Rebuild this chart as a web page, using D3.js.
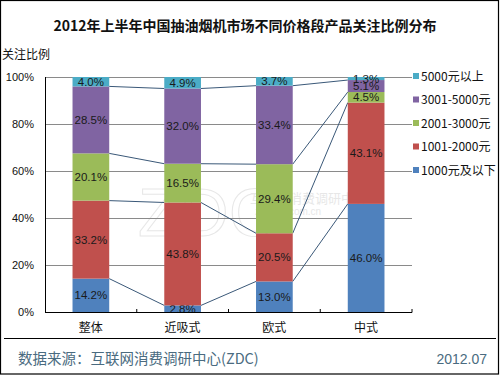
<!DOCTYPE html>
<html>
<head>
<meta charset="utf-8">
<script src="https://d3js.org/d3.v7.min.js"></script>
<style>
  body { margin: 0; background: #fff; }
  text { font-family: "Liberation Sans", Arial, "Noto Sans CJK SC", sans-serif; }
  .cjk { font-family: "Noto Sans CJK SC", "Liberation Sans", sans-serif; }
</style>
</head>
<body>
<svg id="chart" width="500" height="375"></svg>
<script>
// data
const categories = ["整体", "近吸式", "欧式", "中式"];
const seriesNames = ["1000元及以下", "1001-2000元", "2001-3000元", "3001-5000元", "5000元以上"];
const seriesColors = ["#4f81bd", "#c0504d", "#9bbb59", "#8064a2", "#4bacc6"];
const v1000 = [14.2, 2.8, 13.0, 46.0];
const v2000 = [33.2, 43.8, 20.5, 43.1];
const v3000 = [20.1, 16.5, 29.4, 4.5];
const v5000 = [28.5, 32.0, 33.4, 5.1];
const vOver = [4.0, 4.9, 3.7, 1.3];
const yTicks = [0, 20, 40, 60, 80, 100];

const svg = d3.select("#chart");
const W = 500, H = 375;
const margin = {left: 45, right: 88, top: 77, bottom: 63};
const plotW = W - margin.left - margin.right;   // 367
const plotH = H - margin.top - margin.bottom;   // 235

// outer frame
svg.append("rect").attr("x", 0.5).attr("y", 0.5).attr("width", W - 2).attr("height", H - 1.5)
  .attr("fill", "none").attr("stroke", "#000").attr("stroke-width", 1.2);
svg.append("line").attr("x1", 4).attr("x2", 496).attr("y1", 338.5).attr("y2", 338.5)
  .attr("stroke", "#000").attr("stroke-width", 1.2);

// title
svg.append("text").attr("class", "cjk").attr("x", 245).attr("y", 31)
  .attr("text-anchor", "middle").attr("font-size", 14).attr("font-weight", "bold")
  .attr("fill", "#111").text("2012年上半年中国抽油烟机市场不同价格段产品关注比例分布");
svg.append("text").attr("class", "cjk").attr("x", 2).attr("y", 59)
  .attr("font-size", 12).attr("fill", "#111").text("关注比例");

const x = d3.scaleBand().domain(categories)
  .range([margin.left, margin.left + plotW])
  .paddingInner(0.6).paddingOuter(0.3);
const y = d3.scaleLinear().domain([0, 100]).range([margin.top + plotH, margin.top]);

// watermark (faint, sits behind the bars)
const wm = svg.append("g").attr("opacity", 0.35);
wm.append("text").attr("x", 138).attr("y", 236).attr("font-size", 68)
  .attr("font-family", "Liberation Sans, sans-serif")
  .attr("fill", "none").attr("stroke", "#bbb").attr("stroke-width", 1).text("ZDC");
wm.append("text").attr("class", "cjk").attr("x", 250).attr("y", 203).attr("font-size", 13)
  .attr("fill", "#bbb").text("互联网消费调研中心");
wm.append("text").attr("x", 255).attr("y", 215).attr("font-size", 10)
  .attr("fill", "#bbb").text("zdc.zol.com.cn");

// gridlines
svg.append("g")
  .attr("transform", `translate(${margin.left},0)`)
  .call(d3.axisLeft(y).tickValues(yTicks.slice(1)).tickSize(-plotW).tickFormat(""))
  .call(g => g.select(".domain").remove())
  .call(g => g.selectAll("line").attr("stroke", "#8a8a8a"));

// stacked data
const rows = categories.map((c, i) => ({
  cat: c,
  "1000元及以下": v1000[i], "1001-2000元": v2000[i], "2001-3000元": v3000[i],
  "3001-5000元": v5000[i], "5000元以上": vOver[i]
}));
const stacked = d3.stack().keys(seriesNames)(rows);

// series connector lines
const bw = x.bandwidth();
for (let k = 0; k < stacked.length - 1; k++) {
  const s = stacked[k];
  for (let i = 0; i < categories.length - 1; i++) {
    svg.append("line")
      .attr("x1", x(categories[i]) + bw).attr("y1", y(s[i][1]))
      .attr("x2", x(categories[i + 1])).attr("y2", y(s[i + 1][1]))
      .attr("stroke", "#3a5878").attr("stroke-width", 1);
  }
}

// bars
const layer = svg.selectAll("g.layer").data(stacked).enter().append("g")
  .attr("class", "layer").attr("fill", (d, i) => seriesColors[i]);
layer.selectAll("rect").data(d => d).enter().append("rect")
  .attr("x", d => x(d.data.cat))
  .attr("y", d => y(d[1]))
  .attr("width", bw)
  .attr("height", d => y(d[0]) - y(d[1]));

// value labels
layer.selectAll("text").data(d => d.map(p => ({p: p, key: d.key}))).enter().append("text")
  .attr("x", d => x(d.p.data.cat) + bw / 2)
  .attr("y", d => (y(d.p[0]) + y(d.p[1])) / 2 + 4)
  .attr("text-anchor", "middle").attr("font-size", 11.5).attr("fill", "#1a1a1a")
  .text(d => d.p.data[d.key].toFixed(1) + "%");

// axes
svg.append("line").attr("x1", margin.left + 0.5).attr("x2", margin.left + 0.5)
  .attr("y1", margin.top).attr("y2", margin.top + plotH).attr("stroke", "#000");
const xAxis = svg.append("g").attr("transform", `translate(0,${margin.top + plotH})`);
xAxis.append("line").attr("x1", margin.left).attr("x2", margin.left + plotW)
  .attr("y1", 0.5).attr("y2", 0.5).attr("stroke", "#000");
categories.forEach((c, i) => {
  const bx = margin.left + x.step() * (i + 1);
  xAxis.append("line").attr("x1", bx).attr("x2", bx).attr("y1", -3).attr("y2", 0.5)
    .attr("stroke", "#000");
});
xAxis.selectAll("text.cat").data(categories).enter().append("text")
  .attr("class", "cjk").attr("x", d => x(d) + bw / 2).attr("y", 20)
  .attr("text-anchor", "middle").attr("font-size", 12).attr("fill", "#111").text(d => d);

svg.selectAll("text.ytick").data(yTicks).enter().append("text")
  .attr("x", 34).attr("y", d => y(d) + 4)
  .attr("text-anchor", "end").attr("font-size", 11).attr("fill", "#111")
  .text(d => d + "%");

// legend
const legend = svg.append("g");
const legendOrder = seriesNames.slice().reverse();
legendOrder.forEach((name, i) => {
  const ly = 76 + i * 23.5;
  legend.append("rect").attr("x", 413).attr("y", ly - 3).attr("width", 6).attr("height", 6)
    .attr("fill", seriesColors[seriesNames.indexOf(name)]);
  legend.append("text").attr("class", "cjk").attr("x", 421).attr("y", ly + 4.5)
    .attr("font-size", 12).attr("fill", "#111").text(name);
});

// footer
svg.append("text").attr("class", "cjk").attr("x", 18).attr("y", 364)
  .attr("font-size", 14.5).attr("fill", "#4a6b80").text("数据来源：互联网消费调研中心(ZDC)");
svg.append("text").attr("x", 487).attr("y", 364).attr("text-anchor", "end")
  .attr("font-size", 14).attr("fill", "#4a6b80").text("2012.07");
</script>
</body>
</html>
